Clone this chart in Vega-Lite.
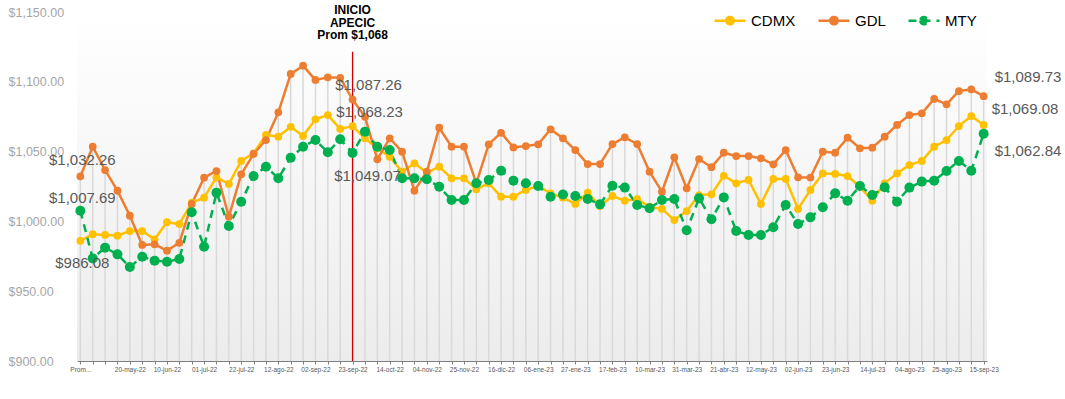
{
  "$schema": "https://vega.github.io/schema/vega-lite/v6.json",
  "width": 910,
  "height": 349,
  "autosize": {"type": "none"},
  "padding": {"left": 77, "top": 12, "right": 78, "bottom": 38},
  "background": "#ffffff",
  "config": {
    "font": "Liberation Sans",
    "view": {
      "stroke": null,
      "fill": {"gradient": "linear", "x1": 0, "y1": 0, "x2": 0, "y2": 1,
        "stops": [{"offset": 0, "color": "#ffffff"}, {"offset": 1, "color": "#ececec"}]}
    }
  },
  "data": {"values": [
    {"fecha": "Prom...", "CDMX": 986.08, "GDL": 1032.26, "MTY": 1007.69},
    {"fecha": "29-abr-22", "CDMX": 990.8, "GDL": 1053.5, "MTY": 973.5},
    {"fecha": "06-may-22", "CDMX": 990.3, "GDL": 1036.8, "MTY": 981.2},
    {"fecha": "13-may-22", "CDMX": 989.8, "GDL": 1022.0, "MTY": 976.4},
    {"fecha": "20-may-22", "CDMX": 993.1, "GDL": 1004.1, "MTY": 967.3},
    {"fecha": "27-may-22", "CDMX": 993.1, "GDL": 983.1, "MTY": 974.7},
    {"fecha": "03-jun-22", "CDMX": 987.2, "GDL": 983.6, "MTY": 971.9},
    {"fecha": "10-jun-22", "CDMX": 999.4, "GDL": 979.0, "MTY": 971.1},
    {"fecha": "17-jun-22", "CDMX": 998.1, "GDL": 984.7, "MTY": 973.1},
    {"fecha": "24-jun-22", "CDMX": 1013.4, "GDL": 1012.5, "MTY": 1006.5},
    {"fecha": "01-jul-22", "CDMX": 1017.0, "GDL": 1031.3, "MTY": 981.9},
    {"fecha": "08-jul-22", "CDMX": 1031.6, "GDL": 1036.1, "MTY": 1020.6},
    {"fecha": "15-jul-22", "CDMX": 1026.8, "GDL": 1003.4, "MTY": 996.7},
    {"fecha": "22-jul-22", "CDMX": 1043.3, "GDL": 1033.7, "MTY": 1014.1},
    {"fecha": "29-jul-22", "CDMX": 1048.8, "GDL": 1048.3, "MTY": 1032.5},
    {"fecha": "05-ago-22", "CDMX": 1061.9, "GDL": 1058.3, "MTY": 1039.2},
    {"fecha": "12-ago-22", "CDMX": 1060.7, "GDL": 1078.1, "MTY": 1030.9},
    {"fecha": "19-ago-22", "CDMX": 1067.8, "GDL": 1105.6, "MTY": 1045.6},
    {"fecha": "26-ago-22", "CDMX": 1061.2, "GDL": 1111.5, "MTY": 1053.5},
    {"fecha": "02-sep-22", "CDMX": 1073.1, "GDL": 1101.3, "MTY": 1058.3},
    {"fecha": "09-sep-22", "CDMX": 1076.2, "GDL": 1103.2, "MTY": 1049.5},
    {"fecha": "16-sep-22", "CDMX": 1066.2, "GDL": 1102.9, "MTY": 1058.8},
    {"fecha": "23-sep-22", "CDMX": 1068.23, "GDL": 1087.26, "MTY": 1049.07},
    {"fecha": "30-sep-22", "CDMX": 1059.5, "GDL": 1075.0, "MTY": 1064.3},
    {"fecha": "07-oct-22", "CDMX": 1052.4, "GDL": 1044.5, "MTY": 1053.5},
    {"fecha": "14-oct-22", "CDMX": 1046.3, "GDL": 1059.5, "MTY": 1051.1},
    {"fecha": "21-oct-22", "CDMX": 1035.6, "GDL": 1049.9, "MTY": 1030.9},
    {"fecha": "28-oct-22", "CDMX": 1041.6, "GDL": 1022.0, "MTY": 1030.9},
    {"fecha": "04-nov-22", "CDMX": 1034.9, "GDL": 1035.6, "MTY": 1030.2},
    {"fecha": "11-nov-22", "CDMX": 1039.2, "GDL": 1067.1, "MTY": 1024.9},
    {"fecha": "18-nov-22", "CDMX": 1030.9, "GDL": 1053.5, "MTY": 1015.3},
    {"fecha": "25-nov-22", "CDMX": 1030.9, "GDL": 1053.5, "MTY": 1015.3},
    {"fecha": "02-dic-22", "CDMX": 1023.0, "GDL": 1027.3, "MTY": 1027.3},
    {"fecha": "09-dic-22", "CDMX": 1027.3, "GDL": 1055.2, "MTY": 1029.7},
    {"fecha": "16-dic-22", "CDMX": 1017.7, "GDL": 1063.5, "MTY": 1036.3},
    {"fecha": "23-dic-22", "CDMX": 1017.7, "GDL": 1053.0, "MTY": 1029.2},
    {"fecha": "30-dic-22", "CDMX": 1022.5, "GDL": 1054.0, "MTY": 1027.3},
    {"fecha": "06-ene-23", "CDMX": 1025.4, "GDL": 1055.2, "MTY": 1025.4},
    {"fecha": "13-ene-23", "CDMX": 1020.1, "GDL": 1066.0, "MTY": 1017.7},
    {"fecha": "20-ene-23", "CDMX": 1017.0, "GDL": 1059.5, "MTY": 1019.3},
    {"fecha": "27-ene-23", "CDMX": 1012.5, "GDL": 1051.1, "MTY": 1018.2},
    {"fecha": "03-feb-23", "CDMX": 1020.6, "GDL": 1041.1, "MTY": 1016.0},
    {"fecha": "10-feb-23", "CDMX": 1011.0, "GDL": 1041.1, "MTY": 1012.2},
    {"fecha": "17-feb-23", "CDMX": 1018.2, "GDL": 1055.4, "MTY": 1025.6},
    {"fecha": "24-feb-23", "CDMX": 1014.8, "GDL": 1060.2, "MTY": 1024.2},
    {"fecha": "03-mar-23", "CDMX": 1016.0, "GDL": 1055.4, "MTY": 1011.7},
    {"fecha": "10-mar-23", "CDMX": 1010.5, "GDL": 1035.6, "MTY": 1009.4},
    {"fecha": "17-mar-23", "CDMX": 1008.9, "GDL": 1021.3, "MTY": 1015.3},
    {"fecha": "24-mar-23", "CDMX": 1001.0, "GDL": 1045.9, "MTY": 1016.0},
    {"fecha": "31-mar-23", "CDMX": 1007.4, "GDL": 1023.7, "MTY": 993.6},
    {"fecha": "07-abr-23", "CDMX": 1018.9, "GDL": 1044.7, "MTY": 1016.5},
    {"fecha": "14-abr-23", "CDMX": 1019.4, "GDL": 1038.8, "MTY": 1001.5},
    {"fecha": "21-abr-23", "CDMX": 1032.7, "GDL": 1049.2, "MTY": 1017.2},
    {"fecha": "28-abr-23", "CDMX": 1027.3, "GDL": 1046.8, "MTY": 993.1},
    {"fecha": "05-may-23", "CDMX": 1029.7, "GDL": 1046.8, "MTY": 990.3},
    {"fecha": "12-may-23", "CDMX": 1012.5, "GDL": 1045.2, "MTY": 990.3},
    {"fecha": "19-may-23", "CDMX": 1030.4, "GDL": 1040.9, "MTY": 995.8},
    {"fecha": "26-may-23", "CDMX": 1030.4, "GDL": 1051.1, "MTY": 1011.7},
    {"fecha": "02-jun-23", "CDMX": 1008.9, "GDL": 1031.6, "MTY": 998.1},
    {"fecha": "09-jun-23", "CDMX": 1022.5, "GDL": 1031.4, "MTY": 1002.9},
    {"fecha": "16-jun-23", "CDMX": 1034.4, "GDL": 1049.9, "MTY": 1010.1},
    {"fecha": "23-jun-23", "CDMX": 1034.0, "GDL": 1049.2, "MTY": 1020.1},
    {"fecha": "30-jun-23", "CDMX": 1032.5, "GDL": 1060.0, "MTY": 1014.8},
    {"fecha": "07-jul-23", "CDMX": 1024.9, "GDL": 1052.4, "MTY": 1025.4},
    {"fecha": "14-jul-23", "CDMX": 1014.8, "GDL": 1052.8, "MTY": 1018.9},
    {"fecha": "21-jul-23", "CDMX": 1027.3, "GDL": 1060.7, "MTY": 1024.4},
    {"fecha": "28-jul-23", "CDMX": 1034.4, "GDL": 1069.1, "MTY": 1014.1},
    {"fecha": "04-ago-23", "CDMX": 1040.4, "GDL": 1076.2, "MTY": 1024.2},
    {"fecha": "11-ago-23", "CDMX": 1043.3, "GDL": 1077.4, "MTY": 1028.5},
    {"fecha": "18-ago-23", "CDMX": 1053.5, "GDL": 1087.7, "MTY": 1029.2},
    {"fecha": "25-ago-23", "CDMX": 1058.3, "GDL": 1083.9, "MTY": 1036.1},
    {"fecha": "01-sep-23", "CDMX": 1068.3, "GDL": 1093.4, "MTY": 1043.3},
    {"fecha": "08-sep-23", "CDMX": 1075.5, "GDL": 1094.6, "MTY": 1036.3},
    {"fecha": "15-sep-23", "CDMX": 1069.08, "GDL": 1089.73, "MTY": 1062.84}
  ]},
  "transform": [{"fold": ["CDMX", "GDL", "MTY"], "as": ["serie", "precio"]}],
  "encoding": {
    "x": {
      "field": "fecha", "type": "ordinal", "sort": null,
      "scale": {"type": "point", "padding": 0.27},
      "axis": {
        "title": null, "labelAngle": 0, "labelFontSize": 6.5, "labelColor": "#595959",
        "labelOverlap": false, "tickSize": 3, "tickColor": "#7f7f7f", "domainColor": "#7f7f7f",
        "labelPadding": 2, "grid": false,
        "labelExpr": "indexof(['Prom...','20-may-22','10-jun-22','01-jul-22','22-jul-22','12-ago-22','02-sep-22','23-sep-22','14-oct-22','04-nov-22','25-nov-22','16-dic-22','06-ene-23','27-ene-23','17-feb-23','10-mar-23','31-mar-23','21-abr-23','12-may-23','02-jun-23','23-jun-23','14-jul-23','04-ago-23','25-ago-23','15-sep-23'], datum.label) >= 0 ? datum.label : ''"
      }
    },
    "y": {
      "field": "precio", "type": "quantitative",
      "scale": {"domain": [900, 1150], "nice": false, "zero": false},
      "axis": {
        "title": null, "values": [900, 950, 1000, 1050, 1100, 1150], "format": "$,.2f",
        "labelAlign": "left", "labelPadding": 69, "ticks": false, "tickSize": 0, "domain": false,
        "grid": false, "labelColor": "#a6a6a6", "labelFontSize": 12.5
      }
    }
  },
  "layer": [
    {
      "transform": [
        {"joinaggregate": [{"op": "max", "field": "precio", "as": "maximo"}], "groupby": ["fecha"]},
        {"filter": "datum.serie === 'GDL'"}
      ],
      "mark": {"type": "rule", "color": "#d9d9d9", "strokeWidth": 1.5},
      "encoding": {"y": {"field": "maximo", "type": "quantitative"}, "y2": {"datum": 900}}
    },
    {
      "transform": [{"filter": "datum.fecha === '23-sep-22' && datum.serie === 'GDL'"}],
      "mark": {"type": "rule", "color": "#d00000", "strokeWidth": 1.3},
      "encoding": {"y": {"datum": 1121.5, "type": "quantitative"}, "y2": {"datum": 900}}
    },
    {
      "mark": {"type": "line", "strokeWidth": 2.5},
      "encoding": {
        "color": {
          "field": "serie", "type": "nominal",
          "scale": {"domain": ["CDMX", "GDL", "MTY"], "range": ["#FFC000", "#ED7D31", "#00B050"]},
          "legend": {
            "orient": "none", "legendX": 636, "legendY": -8.5, "direction": "horizontal", "title": null,
            "padding": 0, "labelFontSize": 15, "labelColor": "#000000", "labelOffset": 4, "columnPadding": 17,
            "symbolType": "M-1,0H1M-0.24,0A0.24,0.24,0,1,0,0.24,0A0.24,0.24,0,1,0,-0.24,0",
            "symbolSize": 961, "symbolStrokeWidth": 2.5,
            "encode": {"symbols": {"update": {
              "size": {"value": 961},
              "fill": {"scale": "color", "field": "value"},
              "stroke": {"scale": "color", "field": "value"},
              "strokeDash": {"scale": "strokeDash", "field": "value"},
              "strokeWidth": {"value": 2.5}
            }}}
          }
        },
        "strokeDash": {
          "field": "serie", "type": "nominal",
          "scale": {"domain": ["CDMX", "GDL", "MTY"], "range": [[1, 0], [1, 0], [8, 6]]},
          "legend": null
        }
      }
    },
    {
      "transform": [{"filter": "datum.serie !== 'MTY'"}],
      "mark": {"type": "point", "filled": true, "opacity": 1, "size": 60},
      "encoding": {"color": {"field": "serie", "type": "nominal"}}
    },
    {
      "transform": [{"filter": "datum.serie === 'MTY'"}],
      "mark": {"type": "point", "filled": true, "opacity": 1, "size": 100},
      "encoding": {"color": {"field": "serie", "type": "nominal"}}
    },
    {
      "transform": [{"filter": "datum.fecha === '23-sep-22' && datum.serie === 'GDL'"}],
      "mark": {"type": "text", "fontWeight": "bold", "fontSize": 12, "baseline": "top", "align": "center", "dy": -7, "lineHeight": 12.5, "color": "#000000"},
      "encoding": {
        "y": {"datum": 1150, "type": "quantitative"},
        "text": {"value": ["INICIO", "APECIC", "Prom $1,068"]}
      }
    },
    {
      "transform": [{"filter": "datum.fecha === 'Prom...' && datum.serie === 'GDL'"}],
      "mark": {"type": "text", "fontSize": 15, "color": "#595959", "align": "center", "baseline": "middle", "dx": 2, "dy": -16},
      "encoding": {"text": {"field": "precio", "type": "quantitative", "format": "$,.2f"}}
    },
    {
      "transform": [{"filter": "datum.fecha === 'Prom...' && datum.serie === 'MTY'"}],
      "mark": {"type": "text", "fontSize": 15, "color": "#595959", "align": "center", "baseline": "middle", "dx": 2, "dy": -13},
      "encoding": {"text": {"field": "precio", "type": "quantitative", "format": "$,.2f"}}
    },
    {
      "transform": [{"filter": "datum.fecha === 'Prom...' && datum.serie === 'CDMX'"}],
      "mark": {"type": "text", "fontSize": 15, "color": "#595959", "align": "center", "baseline": "middle", "dx": 2, "dy": 22},
      "encoding": {"text": {"field": "precio", "type": "quantitative", "format": "$,.2f"}}
    },
    {
      "transform": [{"filter": "datum.fecha === '23-sep-22' && datum.serie === 'GDL'"}],
      "mark": {"type": "text", "fontSize": 15, "color": "#595959", "align": "center", "baseline": "middle", "dx": 16, "dy": -15},
      "encoding": {"text": {"field": "precio", "type": "quantitative", "format": "$,.2f"}}
    },
    {
      "transform": [{"filter": "datum.fecha === '23-sep-22' && datum.serie === 'CDMX'"}],
      "mark": {"type": "text", "fontSize": 15, "color": "#595959", "align": "center", "baseline": "middle", "dx": 17, "dy": -14},
      "encoding": {"text": {"field": "precio", "type": "quantitative", "format": "$,.2f"}}
    },
    {
      "transform": [{"filter": "datum.fecha === '23-sep-22' && datum.serie === 'MTY'"}],
      "mark": {"type": "text", "fontSize": 15, "color": "#595959", "align": "center", "baseline": "middle", "dx": 15, "dy": 23},
      "encoding": {"text": {"field": "precio", "type": "quantitative", "format": "$,.2f"}}
    },
    {
      "transform": [{"filter": "datum.fecha === '15-sep-23' && datum.serie === 'GDL'"}],
      "mark": {"type": "text", "fontSize": 15, "color": "#595959", "align": "left", "baseline": "middle", "dx": 11, "dy": -19},
      "encoding": {"text": {"field": "precio", "type": "quantitative", "format": "$,.2f"}}
    },
    {
      "transform": [{"filter": "datum.fecha === '15-sep-23' && datum.serie === 'CDMX'"}],
      "mark": {"type": "text", "fontSize": 15, "color": "#595959", "align": "left", "baseline": "middle", "dx": 8, "dy": -16},
      "encoding": {"text": {"field": "precio", "type": "quantitative", "format": "$,.2f"}}
    },
    {
      "transform": [{"filter": "datum.fecha === '15-sep-23' && datum.serie === 'MTY'"}],
      "mark": {"type": "text", "fontSize": 15, "color": "#595959", "align": "left", "baseline": "middle", "dx": 11, "dy": 17},
      "encoding": {"text": {"field": "precio", "type": "quantitative", "format": "$,.2f"}}
    }
  ]
}
